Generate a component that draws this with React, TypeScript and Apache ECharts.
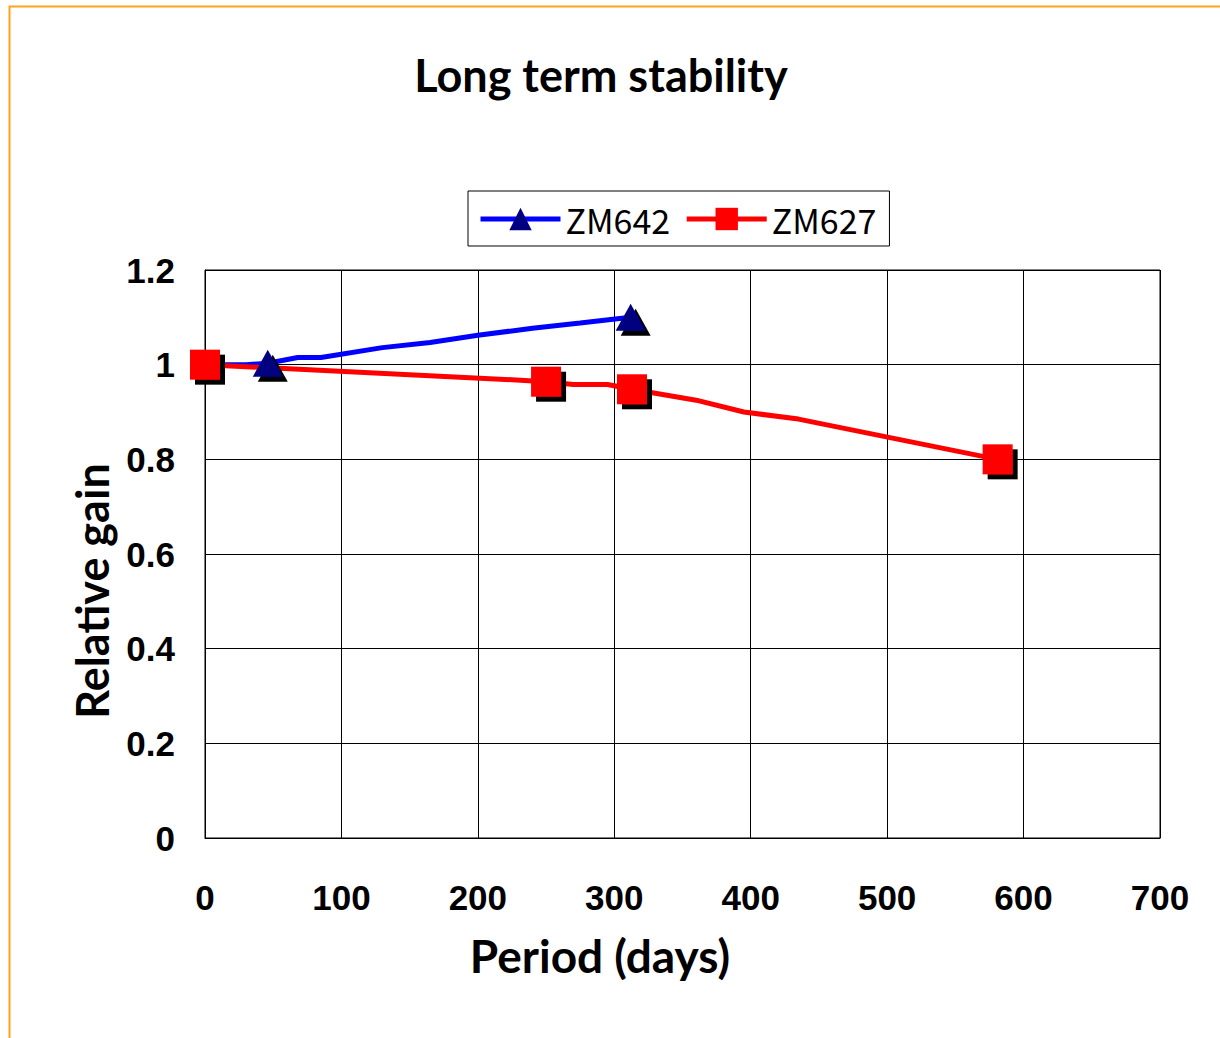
import React, { useEffect, useRef } from "react";
import * as echarts from "echarts";

const xTicks = [0, 100, 200, 300, 400, 500, 600, 700];
const yTicks = [0, 0.2, 0.4, 0.6, 0.8, 1, 1.2];

const zm642Days = [0, 30, 46, 68, 85, 130, 165, 200, 240, 275, 312];
const zm642Gain = [1.0, 1.0, 1.003, 1.015, 1.015, 1.036, 1.047, 1.062, 1.077, 1.088, 1.1];
const zm642Marker = [true, false, true, false, false, false, false, false, false, false, true];

const zm627Days = [0, 225, 250, 270, 295, 313, 360, 395, 435, 581];
const zm627Gain = [1.0, 0.968, 0.964, 0.958, 0.958, 0.948, 0.925, 0.9, 0.885, 0.8];
const zm627Marker = [true, false, true, false, false, true, false, false, false, true];

const build = (days: number[], gain: number[], marker: boolean[]) =>
  days.map((d, i) => (marker[i] ? { value: [d, gain[i]] } : { value: [d, gain[i]], symbol: "none" }));

const markerShadow = {
  shadowColor: "#000",
  shadowOffsetX: 5,
  shadowOffsetY: 5,
  shadowBlur: 0,
};

export default function App() {
  const ref = useRef<HTMLDivElement>(null);
  useEffect(() => {
    if (!ref.current) return;
    const chart = echarts.init(ref.current, undefined, { renderer: "svg" });
    chart.setOption({
      animation: false,
      backgroundColor: "#fff",
      title: {
        text: "Long term stability",
        left: 596,
        top: 47,
        textAlign: "center",
        textStyle: { fontFamily: "Lato", fontWeight: "bold", fontSize: 45, color: "#000" },
      },
      legend: {
        left: 468,
        top: 191,
        padding: [11, 13, 10, 10],
        borderColor: "#000",
        borderWidth: 1,
        itemWidth: 80,
        itemHeight: 28,
        itemGap: 14,
        textStyle: { fontFamily: "Noto Sans CJK JP", fontSize: 34, color: "#000" },
        itemStyle: { shadowColor: "transparent", shadowOffsetX: 0, shadowOffsetY: 0 },
        lineStyle: { width: 5 },
        data: ["ZM642", "ZM627"],
      },
      grid: {
        left: 205,
        top: 270,
        right: 60,
        bottom: 200,
        show: true,
        borderColor: "#000",
        borderWidth: 1,
        backgroundColor: "transparent",
      },
      xAxis: {
        type: "value",
        min: xTicks[0],
        max: xTicks[xTicks.length - 1],
        interval: 100,
        axisLine: { show: true, lineStyle: { color: "#000", width: 1 } },
        axisTick: { show: false },
        splitLine: { show: true, lineStyle: { color: "#000", width: 1 } },
        axisLabel: {
          margin: 42,
          fontFamily: "Liberation Sans",
          fontWeight: "bold",
          fontSize: 35,
          color: "#000",
        },
      },
      yAxis: {
        type: "value",
        min: yTicks[0],
        max: yTicks[yTicks.length - 1],
        interval: 0.2,
        axisLine: { show: true, lineStyle: { color: "#000", width: 1 } },
        axisTick: { show: false },
        splitLine: { show: true, lineStyle: { color: "#000", width: 1 } },
        axisLabel: {
          margin: 30,
          fontFamily: "Liberation Sans",
          fontWeight: "bold",
          fontSize: 35,
          color: "#000",
        },
      },
      graphic: [
        {
          type: "rect",
          silent: true,
          shape: { x: 9.5, y: 6.5, width: 1400, height: 1200 },
          style: { fill: "none", stroke: "#FFA31A", lineWidth: 2 },
        },
        {
          type: "text",
          x: 600,
          y: 955,
          style: {
            text: "Period (days)",
            textAlign: "center",
            textVerticalAlign: "middle",
            font: "bold 46px Lato",
            fill: "#000",
          },
        },
        {
          type: "text",
          x: 92,
          y: 591,
          rotation: Math.PI / 2,
          style: {
            text: "Relative gain",
            textAlign: "center",
            textVerticalAlign: "middle",
            font: "bold 45px Lato",
            fill: "#000",
          },
        },
      ],
      series: [
        {
          name: "ZM642",
          type: "line",
          data: build(zm642Days, zm642Gain, zm642Marker),
          symbol: "triangle",
          symbolSize: [30, 27],
          color: "#0000FF",
          lineStyle: { color: "#0000FF", width: 5 },
          itemStyle: { color: "#000080", ...markerShadow },
        },
        {
          name: "ZM627",
          type: "line",
          data: build(zm627Days, zm627Gain, zm627Marker),
          symbol: "rect",
          symbolSize: 30,
          color: "#FF0000",
          lineStyle: { color: "#FF0000", width: 5 },
          itemStyle: { color: "#FF0000", ...markerShadow },
        },
      ],
    });
    return () => chart.dispose();
  }, []);
  return (
    <div
      ref={ref}
      style={{ position: "fixed", left: 0, top: 0, width: 1220, height: 1038 }}
    />
  );
}
